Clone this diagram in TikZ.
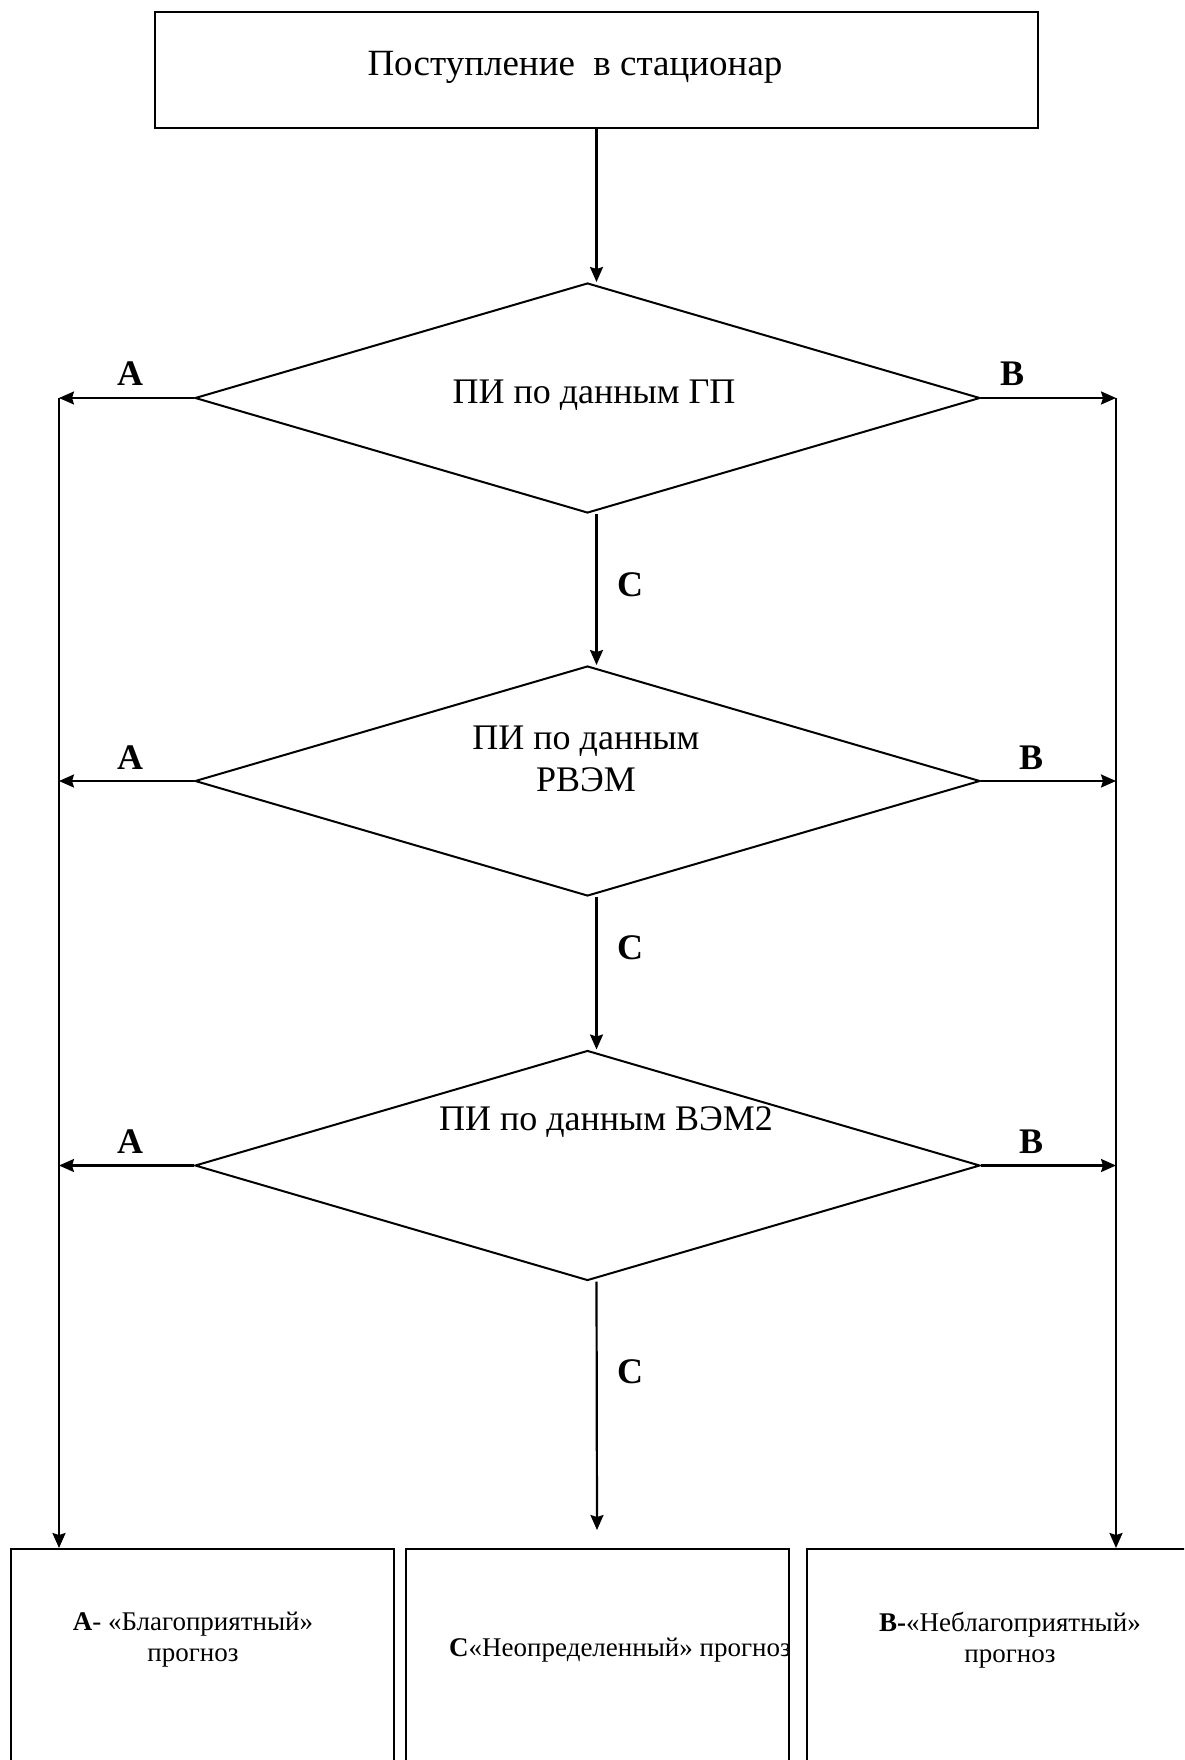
\documentclass[tikz,border=0pt]{standalone}
\usepackage{fontspec}
\setmainfont{Liberation Serif}
\usetikzlibrary{shapes.geometric,arrows.meta}
\begin{document}
\begin{tikzpicture}[x=1pt,y=-1pt,
  line width=2.2pt,
  arr/.style={-{Stealth[length=15pt,width=13pt,inset=2pt]}},
  boxnode/.style={draw, rectangle, inner sep=0pt, line width=2pt},
  dia/.style={draw, diamond, inner sep=0pt, line width=2pt, minimum width=785pt, minimum height=230pt},
  bigtxt/.style={inner sep=0pt, font=\fontsize{36}{42}\selectfont, align=center},
  lbl/.style={inner sep=0pt, font=\fontsize{36}{42}\selectfont\bfseries},
  smalltxt/.style={inner sep=0pt, font=\fontsize{27}{31}\selectfont, align=center}
]
\useasboundingbox (0,0) rectangle (1184,1760);
\clip (0,0) rectangle (1184,1760);
\fill[white] (0,0) rectangle (1184,1760);

% top box
\node[boxnode, minimum width=883pt, minimum height=116pt] (top) at (596.5,70.5) {};
\node[bigtxt, font=\fontsize{37}{42}\selectfont] (ttop) at (575,67) {Поступление \ в стационар};

% diamonds
\node[dia] (d1) at (587.5,398) {};
\node[dia] (d2) at (587.5,781) {};
\node[dia] (d3) at (587.5,1165.5) {};
\node[bigtxt] (t1) at (594,395) {ПИ по данным ГП};
\node[bigtxt] (t2) at (586,759) {ПИ по данным\\РВЭМ};
\node[bigtxt] (t3) at (606,1122) {ПИ по данным ВЭМ2};

% bottom boxes
\node[boxnode, minimum width=383.4pt, minimum height=251pt] (b1) at (202.3,1674.5) {};
\node[boxnode, minimum width=383pt, minimum height=251pt] (b2) at (597,1674.5) {};
\node[boxnode, minimum width=383pt, minimum height=251pt] (b3) at (998.5,1674.5) {};
\node[smalltxt] (tb1) at (193,1640) {\textbf{А}- «Благоприятный»\\прогноз};
\node[smalltxt] (tb2) at (620,1650) {\textbf{С}«Неопределенный» прогноз};
\node[smalltxt] (tb3) at (1010,1640) {\textbf{В-}«Неблагоприятный»\\прогноз};

% side lines
\coordinate (L) at (59,398);
\coordinate (R) at (1116,398);
\coordinate (cend) at (597,1530);

% connectors
\draw[arr] (top.south) -- (top.south |- d1.north);
\draw[arr] (top.south |- d1.south) -- (top.south |- d2.north);
\draw[arr] (top.south |- d2.south) -- (top.south |- d3.north);
\draw[arr] (top.south |- d3.south) -- (cend);

\draw[arr] (d1.west) -- (d1.west -| L);
\draw[arr] (d2.west) -- (d2.west -| L);
\draw[arr] (d3.west) -- (d3.west -| L);
\draw[arr] (d1.east) -- (d1.east -| R);
\draw[arr] (d2.east) -- (d2.east -| R);
\draw[arr] (d3.east) -- (d3.east -| R);

\draw[arr] (L) -- (L |- b1.north);
\draw[arr] (R) -- (R |- b3.north);

% labels
\node[lbl] (a1) at (130,374) {A};
\node[lbl] (a2) at (130,758) {A};
\node[lbl] (a3) at (130,1142) {A};
\node[lbl] (bb1) at (1012,374) {B};
\node[lbl] (bb2) at (1031,758) {B};
\node[lbl] (bb3) at (1031,1142) {B};
\node[lbl] (c1) at (630,585) {C};
\node[lbl] (c2) at (630,948) {C};
\node[lbl] (c3) at (630,1372) {C};
\end{tikzpicture}
\end{document}
